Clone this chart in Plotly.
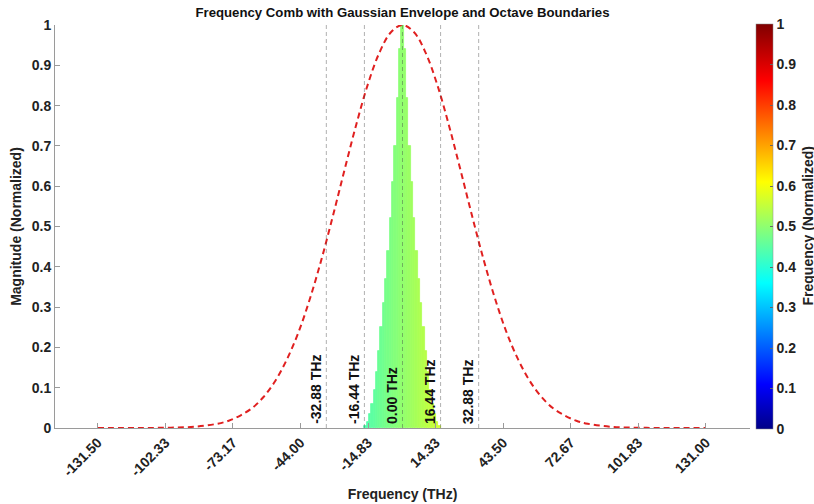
import plotly.graph_objects as go

# ---------------- data ----------------
comb_freq = [-16, -15, -14, -13, -12, -11, -10, -9, -8, -7, -6, -5, -4, -3, -2, -1, 0,
             1, 2, 3, 4, 5, 6, 7, 8, 9, 10, 11, 12, 13, 14, 15, 16]
comb_mag = [0.004, 0.015, 0.035, 0.06, 0.095, 0.14, 0.19, 0.25, 0.31, 0.37, 0.44, 0.52, 0.61, 0.70, 0.82, 0.94, 1.0,
            0.94, 0.82, 0.70, 0.61, 0.52, 0.44, 0.37, 0.31, 0.25, 0.19, 0.14, 0.095, 0.06, 0.035, 0.015, 0.004]

env_freq = [-131.5, -120, -110, -100, -90, -80, -75, -70, -65, -60, -55, -50, -45, -40, -35, -30, -25, -20,
            -15, -10, -5, 0, 5, 10, 15, 20, 25, 30, 35, 40, 45, 50, 55, 60, 65, 70, 75, 80, 90, 100, 110, 120, 131]
env_mag = [0, 0, 0.0002, 0.0008, 0.003, 0.0105, 0.018, 0.031, 0.049, 0.077, 0.116, 0.169, 0.236, 0.320, 0.418,
           0.527, 0.641, 0.752, 0.852, 0.931, 0.982, 1.0, 0.982, 0.931, 0.852, 0.752, 0.641, 0.527, 0.418, 0.320,
           0.236, 0.169, 0.116, 0.077, 0.049, 0.031, 0.018, 0.0105, 0.003, 0.0008, 0.0002, 0, 0]

octave_bounds = [-32.88, -16.44, 0.00, 16.44, 32.88]

xtick_vals = [-131.50, -102.33, -73.17, -44.00, -14.83, 14.33, 43.50, 72.67, 101.83, 131.00]
ytick_vals = [0, 0.1, 0.2, 0.3, 0.4, 0.5, 0.6, 0.7, 0.8, 0.9, 1]
cbar_ticks = [0, 0.1, 0.2, 0.3, 0.4, 0.5, 0.6, 0.7, 0.8, 0.9, 1]

# ---------------- styling ----------------
FONT = "Liberation Sans, Arial, Helvetica, sans-serif"
TXT = "#222222"
AXC = "#9a9a9a"
FS = 14
jet = [[0.0, "rgb(0,0,135)"], [0.11, "rgb(0,0,255)"], [0.36, "rgb(0,255,255)"],
       [0.61, "rgb(255,255,0)"], [0.86, "rgb(255,0,0)"], [1.0, "rgb(128,0,0)"]]

fmin, fmax = env_freq[0], env_freq[-1]
comb_norm = [(f - fmin) / (fmax - fmin) for f in comb_freq]

fig = go.Figure()

fig.add_trace(go.Bar(
    x=comb_freq, y=comb_mag, width=1.0,
    marker=dict(color=comb_norm, colorscale=jet, cmin=0, cmax=1,
                line=dict(width=0.8, color=comb_norm, colorscale=jet, cmin=0, cmax=1),
                colorbar=dict(
                    x=1.008, xanchor="left", xpad=0, y=0.5, yanchor="middle", len=1.005, ypad=0,
                    thickness=17, outlinewidth=0.5, outlinecolor="#888",
                    tickvals=cbar_ticks, ticktext=[f"{v:g}" for v in cbar_ticks],
                    ticks="inside", ticklen=3, tickcolor="#666",
                    tickfont=dict(family=FONT, size=FS, color=TXT, weight="bold"),
                )),
    showlegend=False, hoverinfo="x+y",
))

fig.add_trace(go.Scatter(
    x=env_freq, y=env_mag, mode="lines",
    line=dict(color="#e02020", width=2, dash="6px,4px", shape="spline", smoothing=1.0),
    showlegend=False,
))

for b in octave_bounds:
    fig.add_shape(type="line", xref="x", yref="y", x0=b, x1=b, y0=0, y1=1, layer="above",
                  line=dict(color="rgba(70,70,70,0.42)", width=1, dash="4px,3px"))
    fig.add_annotation(x=b, y=0, xref="x", yref="y", text=f"<b>{b:.2f} THz</b>", textangle=-90,
                       showarrow=False, xanchor="right", yanchor="bottom", xshift=-1, yshift=2,
                       font=dict(family=FONT, size=FS, color="#111"))

# colorbar title (placed as rotated text to the right of the colorbar labels)
fig.add_annotation(x=1.0, y=0.5, xref="paper", yref="paper", xshift=57, text="<b>Frequency (Normalized)</b>",
                   textangle=-90, showarrow=False, xanchor="center", yanchor="middle",
                   font=dict(family=FONT, size=FS, color=TXT))

fig.update_layout(
    width=814, height=504,
    margin=dict(l=55, r=64, t=25, b=76, autoexpand=False),
    paper_bgcolor="white", plot_bgcolor="white",
    bargap=0,
    title=dict(text="<b>Frequency Comb with Gaussian Envelope and Octave Boundaries</b>",
               x=0.5, xref="paper", xanchor="center", y=1 - 12 / 504, yanchor="middle",
               font=dict(family=FONT, size=13.2, color="#111")),
    xaxis=dict(range=[-150, 150], tickvals=xtick_vals, ticktext=[f"{v:.2f}" for v in xtick_vals],
               tickangle=-45, showline=True, linecolor=AXC, linewidth=1, ticks="inside", ticklen=5,
               tickcolor=AXC, showgrid=False, zeroline=False,
               tickfont=dict(family=FONT, size=FS, color=TXT, weight="bold"),
               title=dict(text="<b>Frequency (THz)</b>", standoff=10,
                          font=dict(family=FONT, size=FS, color=TXT))),
    yaxis=dict(range=[0, 1], tickvals=ytick_vals, ticktext=[f"{v:g}" for v in ytick_vals],
               showline=True, linecolor=AXC, linewidth=1, ticks="inside", ticklen=5, tickcolor=AXC,
               showgrid=False, zeroline=False,
               tickfont=dict(family=FONT, size=FS, color=TXT, weight="bold"),
               title=dict(text="<b>Magnitude (Normalized)</b>", standoff=6,
                          font=dict(family=FONT, size=FS, color=TXT))),
)

fig.write_html("out.html")
